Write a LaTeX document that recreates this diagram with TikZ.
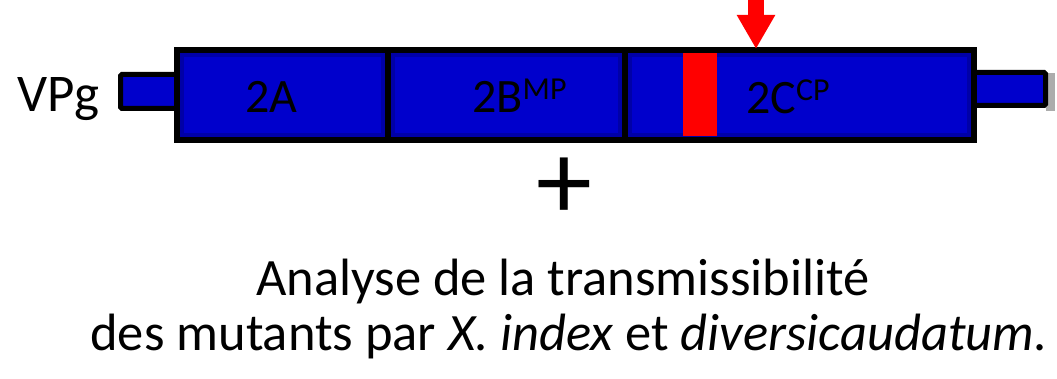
\documentclass[tikz,border=0pt]{standalone}
\usepackage{fontspec}
\setmainfont{Carlito}
\usetikzlibrary{arrows.meta}
\definecolor{segblue}{RGB}{0,0,204}
\definecolor{mutred}{RGB}{255,0,0}
\begin{document}
\begin{tikzpicture}[x=1pt,y=-1pt,
  seg/.style={draw=black, line width=6pt, fill=segblue, inner sep=0pt, outer sep=0pt,
              minimum height=90pt, anchor=north west},
  stub/.style={draw=black, line width=5pt, fill=segblue, inner sep=0pt, outer sep=0pt,
              anchor=north west, rounded corners=1.5pt},
  rim/.style={black, opacity=0.18, line width=4pt},
  lbl/.style={inner sep=0pt, anchor=base west, font=\fontsize{48}{52}\selectfont},
  txt/.style={inner sep=0pt, anchor=base, font=\fontsize{52.5}{56}\selectfont}]
\useasboundingbox (0,0) rectangle (1057,379);
% end stubs (behind the bar)
\fill[gray!65] (1046,73) rectangle (1055,111);
\node[stub, minimum width=60pt, minimum height=34pt] (vpgbox) at (120.5,74.5) {};
\node[stub, minimum width=71.5pt, minimum height=33pt] (cterm) at (974,72.5) {};
% segments
\node[seg, minimum width=210.5pt] (s2a) at (177,50) {};
\node[seg, minimum width=237.5pt] (s2b) at (387.5,50) {};
\node[seg, minimum width=349pt] (s2c) at (625,50) {};
\foreach \s in {s2a,s2b,s2c}{
  \draw[rim] ([shift={(5,5)}]\s.north west) rectangle ([shift={(-5,-5)}]\s.south east);
}
% redraw borders on top of rims
\foreach \s in {s2a,s2b,s2c}{
  \draw[black, line width=6pt] (\s.north west) rectangle (\s.south east);
}
% mutation
\node[fill=mutred, inner sep=0pt, outer sep=0pt, minimum width=34pt, minimum height=83pt,
      anchor=north west] (mut) at (683,53) {};
\coordinate (arrtop) at (756,-2);
\coordinate (arrtip) at (756,49);
\draw[mutred, line width=16pt, -{Triangle[length=34pt,width=36pt]}] (arrtop) -- (arrtip);
% labels
\node[lbl, anchor=base east, font=\fontsize{53}{56}\selectfont] (vpg) at (100,112) {VPg};
\node[lbl] (l2a) at (245,113) {2A};
\node[lbl] (l2b) at (472,113) {2B\raisebox{13pt}{\fontsize{32}{32}\selectfont MP}};
\node[lbl] (l2c) at (746,114) {2C\raisebox{13pt}{\fontsize{32}{32}\selectfont CP}};
% plus
\node[inner sep=0pt, font=\fontsize{112}{112}\selectfont] (plus) at (564,189) {+};
% caption
\node[txt] (line1) at (563,295) {Analyse de la transmissibilité};
\node[txt] (line2) at (569,350) {des mutants par \textit{X. index} et \textit{diversicaudatum.}};
\end{tikzpicture}
\end{document}
